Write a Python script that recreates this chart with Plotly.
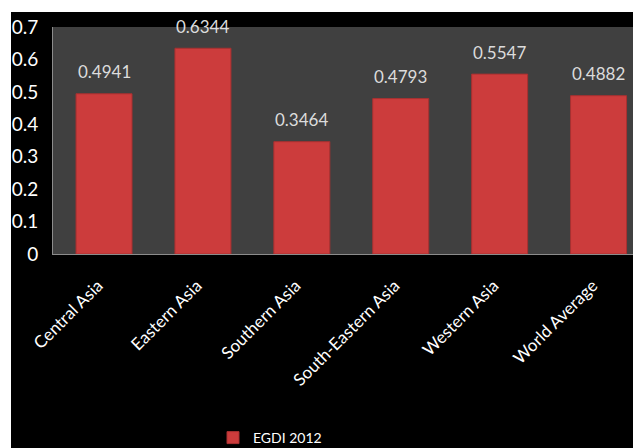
import plotly.graph_objects as go

categories = ["Central Asia", "Eastern Asia", "Southern Asia", "South-Eastern Asia", "Western Asia", "World Average"]
egdi_2012 = [0.4941, 0.6344, 0.3464, 0.4793, 0.5547, 0.4882]
value_labels = ["0.4941", "0.6344", "0.3464", "0.4793", "0.5547", "0.4882"]
y_ticks = [0, 0.1, 0.2, 0.3, 0.4, 0.5, 0.6, 0.7]
y_tick_labels = ["0", "0.1", "0.2", "0.3", "0.4", "0.5", "0.6", "0.7"]

W, H = 640, 455
L, R, T, B = 53, 0, 27, 201
pw, ph = W - L - R, H - T - B

def px_x(px):
    return (px - L) / pw

def px_y(py):
    return (T + ph - py) / ph

fig = go.Figure()
fig.add_trace(go.Bar(
    x=categories, y=egdi_2012, name="EGDI 2012",
    marker=dict(color="#cc3c3c", line=dict(color="#a83030", width=1)),
    hoverinfo="skip",
))

for c, v, t in zip(categories, egdi_2012, value_labels):
    fig.add_annotation(x=c, y=v, text=t, showarrow=False, yanchor="middle", yshift=22,
                       font=dict(family="Lato", size=17, color="#dcdcdc"))

# white strips (top and left) around the black chart area
fig.add_shape(type="rect", xref="paper", yref="paper", layer="below",
              x0=px_x(0), x1=px_x(11), y0=px_y(H), y1=px_y(0),
              fillcolor="white", line=dict(width=0))
fig.add_shape(type="rect", xref="paper", yref="paper", layer="below",
              x0=px_x(0), x1=px_x(W), y0=px_y(12), y1=px_y(0),
              fillcolor="white", line=dict(width=0))

fig.update_layout(
    width=W, height=H,
    margin=dict(l=L, r=R, t=T, b=B, pad=0),
    paper_bgcolor="black",
    plot_bgcolor="#404040",
    bargap=0.434,
    showlegend=True,
    legend=dict(x=px_x(213), xanchor="left", y=px_y(454), yanchor="bottom",
                font=dict(family="Lato", size=14, color="white"), bgcolor="rgba(0,0,0,0)"),
    xaxis=dict(range=[-0.516, 5.419], tickangle=-45, showgrid=False, showline=True,
               linecolor="#8c8c8c", linewidth=1, ticks="", fixedrange=True,
               ticklabelstandoff=14, ticklabelshift=-6,
               tickfont=dict(family="Lato", size=17, color="white")),
    yaxis=dict(range=[0, 0.7], tickvals=y_ticks, ticktext=y_tick_labels, showgrid=False,
               showline=True, linecolor="#8c8c8c", linewidth=1, ticks="", ticklabelstandoff=10,
               zeroline=False, fixedrange=True,
               tickfont=dict(family="Lato", size=19, color="white")),
)

fig.write_html("out.html", config={"displayModeBar": False},
               post_script="document.body.style.margin='0';document.body.style.background='black';"
                           "document.documentElement.style.background='black';"
                           "document.body.style.overflow='hidden';document.documentElement.style.overflow='hidden';")
